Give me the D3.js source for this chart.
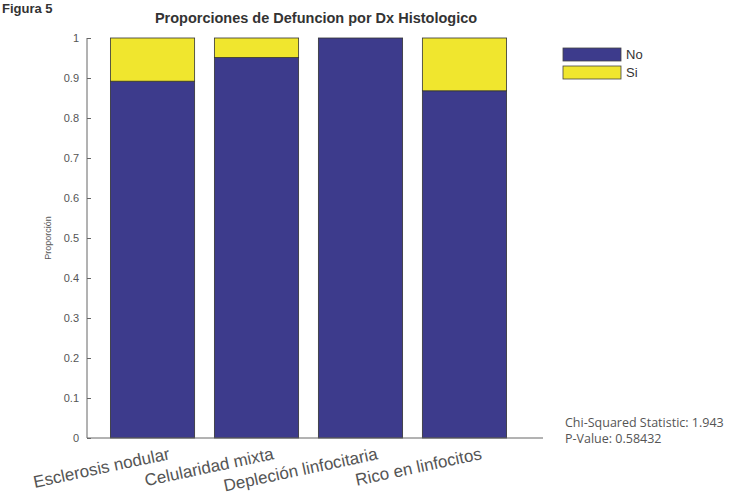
<!DOCTYPE html>
<html>
<head>
<meta charset="utf-8">
<script src="https://cdn.jsdelivr.net/npm/d3@7"></script>
<style>
  body { margin: 0; background: #fff; }
  svg { display: block; }
</style>
</head>
<body>
<div class="graph-pane"></div>
<script>
// data
var categories = ["Esclerosis nodular", "Celularidad mixta", "Depleción linfocitaria", "Rico en linfocitos"];
var noValues = [0.892, 0.951, 1.0, 0.868];
var siValues = [0.108, 0.049, 0.0, 0.132];
var seriesNames = ["No", "Si"];
var seriesColors = ["#3d3b8c", "#f0e62e"];
var yTicks = [0, 0.1, 0.2, 0.3, 0.4, 0.5, 0.6, 0.7, 0.8, 0.9, 1];
var statLines = ["Chi-Squared Statistic: 1.943", "P-Value: 0.58432"];

var width = 748, height = 504;
var frame = {left: 87, right: 543, top: 38, bottom: 438};

var svg = d3.select('.graph-pane')
  .append('svg')
  .attr('width', width)
  .attr('height', height);

var xScale = d3.scaleBand()
  .domain(categories)
  .range([100, 517])
  .paddingInner(0.19)
  .paddingOuter(0.1);

var yScale = d3.scaleLinear()
  .domain([0, 1])
  .range([frame.bottom, frame.top]);

// stack No at the bottom, Si on top
var rows = categories.map((c, i) => ({cat: c, No: noValues[i], Si: siValues[i]}));
var stacked = d3.stack().keys(seriesNames)(rows);

svg.append('text')
  .attr('x', 2)
  .attr('y', 13)
  .attr('font-family', 'Liberation Sans, Arial, sans-serif')
  .attr('font-weight', 'bold')
  .attr('font-size', 13)
  .attr('fill', '#333')
  .text('Figura 5');

svg.append('text')
  .attr('x', 316)
  .attr('y', 23)
  .attr('text-anchor', 'middle')
  .attr('font-family', 'Liberation Sans, Arial, sans-serif')
  .attr('font-weight', 'bold')
  .attr('font-size', 14.5)
  .attr('fill', '#333')
  .text('Proporciones de Defuncion por Dx Histologico');

var layers = svg.append('g')
  .selectAll('g')
  .data(stacked)
  .join('g')
  .attr('fill', (d, i) => seriesColors[i]);

layers.selectAll('rect')
  .data(d => d)
  .join('rect')
  .attr('x', d => xScale(d.data.cat))
  .attr('width', xScale.bandwidth())
  .attr('y', d => yScale(d[1]))
  .attr('height', d => yScale(d[0]) - yScale(d[1]))
  .attr('stroke', '#333')
  .attr('stroke-width', 0.8)
  .style('display', d => (d[1] - d[0]) > 0 ? null : 'none');

// y axis, ticks pointing inward like matlab
var yAxis = d3.axisRight(yScale).tickValues(yTicks).tickSize(4).tickFormat(d3.format('~g'));
var yg = svg.append('g')
  .attr('transform', 'translate(' + frame.left + ',0)')
  .call(yAxis);
yg.select('.domain').remove();
yg.selectAll('.tick line').attr('stroke', '#666');
yg.selectAll('.tick text')
  .attr('x', -8)
  .attr('text-anchor', 'end')
  .attr('font-family', 'Liberation Sans, Arial, sans-serif')
  .attr('font-size', 11)
  .attr('fill', '#555');

svg.append('line')
  .attr('x1', frame.left).attr('x2', frame.left)
  .attr('y1', frame.top).attr('y2', frame.bottom)
  .attr('stroke', '#666');
svg.append('line')
  .attr('x1', frame.left).attr('x2', frame.right)
  .attr('y1', frame.bottom).attr('y2', frame.bottom)
  .attr('stroke', '#666');

svg.append('text')
  .attr('transform', 'translate(51,238) rotate(-90)')
  .attr('text-anchor', 'middle')
  .attr('font-family', 'Liberation Sans, Arial, sans-serif')
  .attr('font-size', 9)
  .attr('fill', '#555')
  .text('Proporción');

// rotated category labels
svg.append('g')
  .selectAll('text')
  .data(categories)
  .join('text')
  .attr('transform', d => 'translate(' + (xScale(d) + xScale.bandwidth() / 2 + 18) + ',' + (frame.bottom + 21) + ') rotate(-12)')
  .attr('text-anchor', 'end')
  .attr('font-family', 'Liberation Sans, Arial, sans-serif')
  .attr('font-size', 17)
  .attr('fill', '#555')
  .text(d => d);

// legend
var legend = svg.append('g')
  .selectAll('g')
  .data(seriesNames)
  .join('g')
  .attr('transform', (d, i) => 'translate(563,' + (48 + i * 18) + ')');
legend.append('rect')
  .attr('width', 58)
  .attr('height', 13)
  .attr('fill', (d, i) => seriesColors[i])
  .attr('stroke', '#444')
  .attr('stroke-width', 0.8);
legend.append('text')
  .attr('x', 63)
  .attr('y', 11)
  .attr('font-family', 'Liberation Sans, Arial, sans-serif')
  .attr('font-size', 13)
  .attr('fill', '#333')
  .text(d => d);

svg.append('g')
  .selectAll('text')
  .data(statLines)
  .join('text')
  .attr('x', 565)
  .attr('y', (d, i) => 427 + i * 16)
  .attr('font-family', 'Open Sans, sans-serif')
  .attr('font-size', 12.5)
  .attr('fill', '#555')
  .text(d => d);
</script>
</body>
</html>
